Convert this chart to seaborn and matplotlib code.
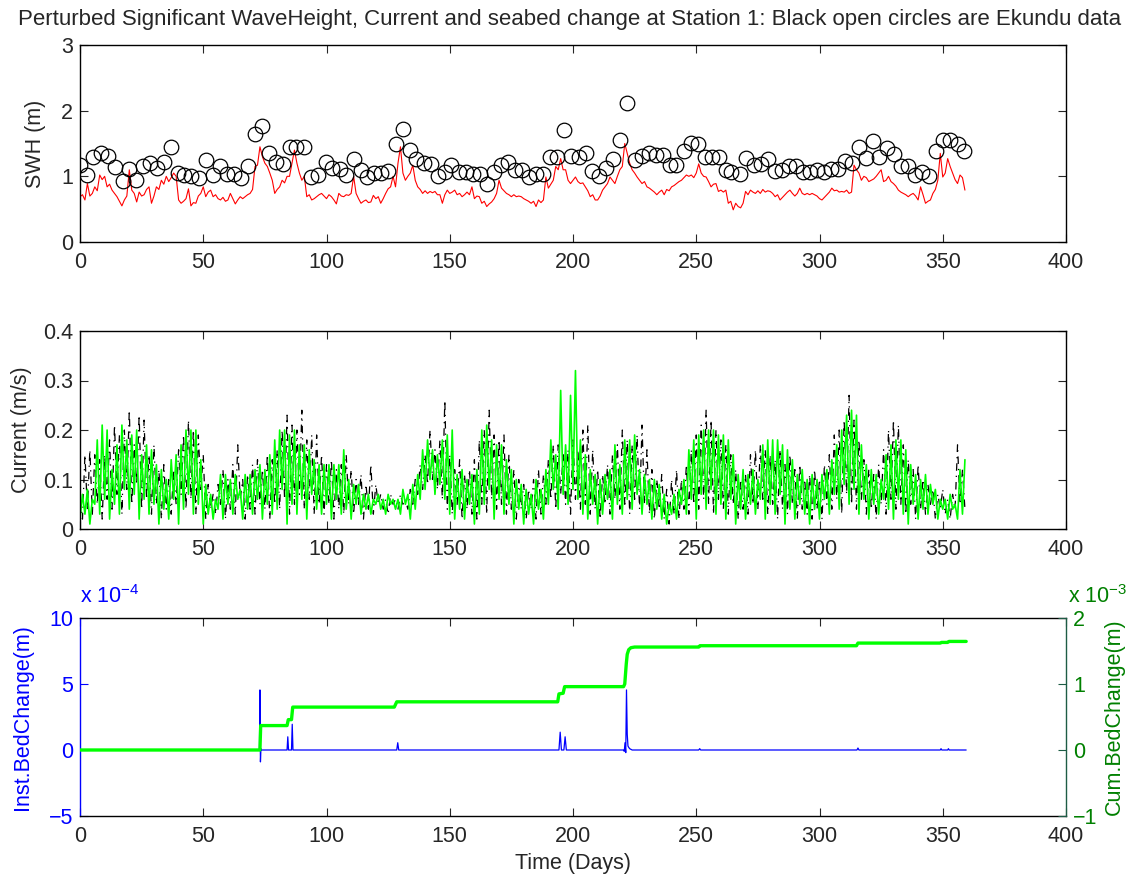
import numpy as np
import pandas as pd
import matplotlib
matplotlib.use("Agg")
import matplotlib.pyplot as plt
import seaborn as sns

# ---------------- data ----------------
title = ("Perturbed Significant WaveHeight, Current and seabed change at Station 1: "
         "Black open circles are Ekundu data")

# Ekundu observed SWH (open circles)
ek_day = [0, 2.7, 5.4, 8.5, 11.5, 14.2, 17.3, 19.9, 22.6, 25.7,
          28.4, 31.1, 34.2, 36.9, 39.6, 42.3, 45.0, 48.4, 51.1, 53.8,
          56.8, 59.5, 62.6, 65.5, 68.2, 70.9, 73.9, 76.8, 79.5, 82.4,
          85.1, 87.8, 90.9, 93.6, 96.6, 99.6, 102.3, 105.4, 108.1, 111.1,
          113.8, 116.5, 119.2, 122.2, 125.1, 128.0, 131.1,
          133.8, 136.5, 139.5, 142.3, 145.3, 148.0, 150.7, 153.6, 156.5, 159.5,
          162.2, 165.1, 168.0, 170.7, 173.6, 176.4, 179.3, 182.2, 185.1, 187.8,
          190.8, 193.5, 196.3, 199.3, 202.3, 205.1, 207.8, 210.5, 213.5, 216.2,
          218.9, 222.0, 225.0, 228.0, 230.8, 233.5, 236.5, 239.2, 241.9, 244.9,
          247.7, 250.7, 253.4, 256.3, 259.2, 261.9,
          264.2, 267.6, 270.3, 273.4, 276.1, 279.0, 281.8, 284.7, 287.6, 290.5,
          293.2, 296.2, 299.0, 301.8, 304.7, 307.4, 310.4, 313.3, 316.2, 318.9,
          321.6, 324.3, 327.3, 330.2, 333.1, 335.8, 338.8, 341.5, 344.6, 347.3,
          350.0, 353.1, 356.1, 358.8]
ek_swh = [1.17, 1.02, 1.30, 1.35, 1.31, 1.14, 0.93, 1.11, 0.94, 1.15,
          1.21, 1.13, 1.22, 1.45, 1.05, 1.02, 1.00, 0.98, 1.25, 1.02,
          1.16, 1.04, 1.04, 0.98, 1.15, 1.64, 1.76, 1.36, 1.22, 1.19,
          1.45, 1.44, 1.45, 0.99, 1.02, 1.22, 1.12, 1.11, 1.02, 1.26,
          1.09, 0.99, 1.05, 1.05, 1.08, 1.50, 1.72,
          1.40, 1.26, 1.20, 1.19, 1.00, 1.06, 1.17, 1.07, 1.06, 1.04,
          1.04, 0.88, 1.06, 1.17, 1.22, 1.09, 1.09, 0.99, 1.04, 1.04,
          1.30, 1.30, 1.71, 1.31, 1.30, 1.35, 1.08, 1.00, 1.12, 1.27,
          1.55, 2.11, 1.25, 1.31, 1.35, 1.32, 1.32, 1.18, 1.18, 1.39,
          1.51, 1.49, 1.30, 1.29, 1.29, 1.10,
          1.06, 1.04, 1.28, 1.17, 1.19, 1.26, 1.08, 1.09, 1.15, 1.16,
          1.07, 1.07, 1.10, 1.07, 1.11, 1.11, 1.24, 1.21, 1.45, 1.28,
          1.54, 1.30, 1.43, 1.34, 1.16, 1.16, 1.02, 1.07, 1.00, 1.39,
          1.55, 1.55, 1.50, 1.39]

# model time axis (days)
days = list(range(360))

# perturbed model SWH (red line)
swh_model = [
    0.69, 0.72, 0.64, 0.89, 0.70, 0.74, 0.84, 0.78, 1.02, 0.95,
    1.00, 0.84, 0.88, 0.79, 0.74, 0.69, 0.62, 0.55, 0.64, 0.70,
    1.10, 0.79, 0.74, 0.61, 0.76, 0.70, 0.72, 0.80, 0.84, 0.59,
    0.70, 0.84, 0.80, 0.94, 0.88, 1.00, 0.92, 0.98, 1.05, 1.00,
    0.64, 0.59, 0.62, 0.66, 0.81, 0.55, 0.60, 0.59, 0.70, 0.74,
    0.84, 0.69, 0.76, 0.79, 0.69, 0.72, 0.66, 0.64, 0.68, 0.62,
    0.64, 0.74, 0.66, 0.58, 0.64, 0.69, 0.66, 0.69, 0.72, 0.74,
    0.80, 1.15, 1.17, 1.45, 1.30, 1.20, 1.15, 1.05, 0.94, 0.74,
    0.80, 0.84, 0.94, 0.90, 1.00, 1.00, 1.20, 1.40, 1.20, 1.05,
    0.94, 1.00, 0.69, 0.72, 0.64, 0.66, 0.69, 0.72, 0.74, 0.70,
    0.66, 0.72, 0.69, 0.64, 0.58, 0.74, 0.70, 0.69, 0.72, 0.71,
    0.74, 1.00, 0.74, 0.66, 0.59, 0.62, 0.64, 0.60, 0.61, 0.71,
    0.66, 0.69, 0.59, 0.66, 0.74, 0.81, 0.84, 1.00, 0.84, 1.20,
    1.45, 1.05, 0.94, 1.00, 1.05, 1.17, 0.94, 0.84, 0.80, 0.74,
    0.78, 0.74, 0.77, 0.75, 0.77, 0.72, 0.72, 0.59, 0.72, 0.79,
    0.74, 0.76, 0.79, 0.72, 0.74, 0.69, 0.72, 0.76, 0.72, 0.84,
    0.66, 0.70, 0.69, 0.59, 0.62, 0.54, 0.58, 0.61, 0.66, 0.74,
    0.94, 0.82, 0.78, 0.74, 0.72, 0.69, 0.72, 0.69, 0.70, 0.69,
    0.66, 0.64, 0.62, 0.59, 0.62, 0.54, 0.64, 0.60, 0.64, 0.99,
    0.82, 0.88, 0.94, 1.15, 1.10, 1.27, 1.10, 1.10, 0.94, 0.89,
    0.94, 0.99, 0.92, 0.89, 0.90, 0.84, 0.78, 0.69, 0.72, 0.64,
    0.64, 0.70, 0.79, 0.84, 0.89, 0.99, 0.94, 0.89, 1.00, 1.10,
    1.15, 1.50, 1.35, 1.20, 1.10, 1.05, 0.99, 0.94, 0.89, 0.92,
    0.84, 0.82, 0.79, 0.76, 0.72, 0.76, 0.79, 0.72, 0.80, 0.78,
    0.84, 0.86, 0.89, 0.92, 0.94, 0.98, 1.02, 1.00, 1.02, 0.98,
    1.05, 1.19, 1.05, 1.00, 0.99, 0.92, 0.84, 0.88, 0.89, 0.77,
    0.79, 0.76, 0.79, 0.59, 0.62, 0.49, 0.59, 0.54, 0.52, 0.59,
    0.77, 0.72, 0.79, 0.76, 0.74, 0.78, 0.74, 0.80, 0.76, 0.78,
    0.77, 0.74, 0.69, 0.72, 0.64, 0.68, 0.72, 0.76, 0.79, 0.74,
    0.70, 0.74, 0.82, 0.74, 0.72, 0.74, 0.72, 0.74, 0.72, 0.70,
    0.66, 0.64, 0.68, 0.72, 0.76, 0.82, 0.78, 0.79, 0.76, 0.77,
    0.76, 0.79, 0.74, 0.76, 1.17, 1.10, 1.05, 0.94, 1.00, 0.98,
    0.92, 0.94, 0.96, 1.00, 1.05, 1.10, 0.92, 0.94, 1.00, 0.92,
    0.89, 0.85, 0.79, 0.76, 0.74, 0.72, 0.69, 0.72, 0.74, 0.70,
    0.64, 0.84, 0.72, 0.59, 0.62, 0.64, 0.74, 0.80, 0.94, 1.35,
    0.99, 1.05, 1.27, 1.15, 1.05, 0.95, 0.89, 1.02, 0.98, 0.79]

# perturbed model current (green line)
cur_model = [
    0.02, 0.07, 0.03, 0.08, 0.01, 0.06, 0.05, 0.18, 0.03, 0.21,
    0.06, 0.20, 0.02, 0.12, 0.05, 0.17, 0.03, 0.21, 0.08, 0.18,
    0.04, 0.19, 0.07, 0.20, 0.02, 0.15, 0.06, 0.17, 0.03, 0.16,
    0.05, 0.13, 0.01, 0.12, 0.04, 0.10, 0.02, 0.14, 0.06, 0.15,
    0.01, 0.17, 0.04, 0.20, 0.07, 0.20, 0.03, 0.20, 0.05, 0.14,
    0.01, 0.09, 0.03, 0.07, 0.02, 0.06, 0.04, 0.11, 0.02, 0.11,
    0.05, 0.10, 0.03, 0.11, 0.06, 0.08, 0.02, 0.11, 0.04, 0.11,
    0.03, 0.12, 0.06, 0.13, 0.02, 0.12, 0.05, 0.15, 0.03, 0.18,
    0.04, 0.20, 0.08, 0.20, 0.01, 0.19, 0.05, 0.20, 0.03, 0.17,
    0.06, 0.17, 0.02, 0.16, 0.07, 0.14, 0.04, 0.13, 0.03, 0.13,
    0.05, 0.13, 0.02, 0.13, 0.06, 0.13, 0.03, 0.16, 0.04, 0.10,
    0.02, 0.09, 0.05, 0.09, 0.03, 0.07, 0.04, 0.07, 0.03, 0.06,
    0.05, 0.07, 0.04, 0.06, 0.03, 0.07, 0.05, 0.06, 0.04, 0.06,
    0.03, 0.08, 0.05, 0.07, 0.02, 0.09, 0.04, 0.11, 0.06, 0.16,
    0.08, 0.18, 0.10, 0.16, 0.07, 0.15, 0.09, 0.18, 0.06, 0.19,
    0.03, 0.20, 0.02, 0.11, 0.04, 0.12, 0.02, 0.10, 0.05, 0.11,
    0.01, 0.12, 0.03, 0.20, 0.05, 0.21, 0.08, 0.18, 0.02, 0.17,
    0.06, 0.17, 0.03, 0.14, 0.05, 0.12, 0.01, 0.10, 0.04, 0.09,
    0.01, 0.08, 0.03, 0.07, 0.01, 0.10, 0.04, 0.08, 0.02, 0.12,
    0.05, 0.18, 0.08, 0.15, 0.04, 0.28, 0.07, 0.17, 0.05, 0.27,
    0.08, 0.32, 0.06, 0.18, 0.03, 0.15, 0.02, 0.12, 0.05, 0.11,
    0.01, 0.10, 0.03, 0.11, 0.06, 0.12, 0.02, 0.17, 0.05, 0.13,
    0.03, 0.18, 0.06, 0.18, 0.04, 0.19, 0.07, 0.12, 0.03, 0.11,
    0.05, 0.10, 0.02, 0.10, 0.04, 0.09, 0.02, 0.07, 0.01, 0.05,
    0.03, 0.07, 0.02, 0.08, 0.05, 0.10, 0.03, 0.16, 0.06, 0.18,
    0.02, 0.19, 0.07, 0.20, 0.04, 0.20, 0.08, 0.20, 0.03, 0.19,
    0.05, 0.19, 0.02, 0.18, 0.06, 0.15, 0.01, 0.11, 0.04, 0.12,
    0.02, 0.11, 0.05, 0.12, 0.03, 0.10, 0.06, 0.17, 0.02, 0.18,
    0.05, 0.18, 0.03, 0.18, 0.07, 0.17, 0.01, 0.16, 0.04, 0.14,
    0.02, 0.11, 0.05, 0.12, 0.03, 0.10, 0.01, 0.11, 0.04, 0.10,
    0.02, 0.11, 0.06, 0.12, 0.03, 0.14, 0.07, 0.17, 0.04, 0.20,
    0.09, 0.23, 0.05, 0.24, 0.08, 0.23, 0.03, 0.17, 0.06, 0.13,
    0.02, 0.12, 0.05, 0.11, 0.03, 0.10, 0.06, 0.15, 0.04, 0.17,
    0.02, 0.18, 0.06, 0.18, 0.03, 0.16, 0.01, 0.13, 0.05, 0.11,
    0.02, 0.10, 0.04, 0.11, 0.03, 0.09, 0.05, 0.08, 0.02, 0.06,
    0.04, 0.06, 0.02, 0.07, 0.04, 0.05, 0.02, 0.12, 0.03, 0.14]

# reference current (black dash-dot line)
cur_ref = [
    0.06, 0.02, 0.15, 0.04, 0.16, 0.03, 0.15, 0.05, 0.14, 0.02,
    0.15, 0.06, 0.18, 0.04, 0.21, 0.07, 0.19, 0.03, 0.20, 0.08,
    0.24, 0.05, 0.17, 0.09, 0.23, 0.04, 0.22, 0.06, 0.15, 0.03,
    0.17, 0.05, 0.12, 0.02, 0.13, 0.04, 0.10, 0.03, 0.12, 0.05,
    0.16, 0.07, 0.19, 0.04, 0.22, 0.06, 0.20, 0.03, 0.19, 0.08,
    0.15, 0.02, 0.09, 0.04, 0.07, 0.03, 0.09, 0.05, 0.12, 0.02,
    0.10, 0.04, 0.13, 0.03, 0.17, 0.06, 0.10, 0.02, 0.11, 0.04,
    0.13, 0.03, 0.14, 0.05, 0.12, 0.04, 0.15, 0.02, 0.14, 0.05,
    0.16, 0.04, 0.20, 0.06, 0.23, 0.03, 0.21, 0.05, 0.20, 0.07,
    0.24, 0.04, 0.18, 0.06, 0.19, 0.03, 0.19, 0.05, 0.15, 0.03,
    0.13, 0.05, 0.14, 0.02, 0.12, 0.04, 0.13, 0.03, 0.15, 0.05,
    0.12, 0.03, 0.10, 0.05, 0.11, 0.02, 0.09, 0.04, 0.13, 0.03,
    0.09, 0.05, 0.07, 0.04, 0.06, 0.03, 0.07, 0.05, 0.06, 0.04,
    0.07, 0.05, 0.06, 0.04, 0.08, 0.05, 0.10, 0.07, 0.13, 0.08,
    0.15, 0.09, 0.20, 0.10, 0.16, 0.08, 0.18, 0.06, 0.26, 0.04,
    0.15, 0.03, 0.12, 0.05, 0.14, 0.02, 0.11, 0.04, 0.12, 0.03,
    0.14, 0.02, 0.18, 0.05, 0.20, 0.03, 0.24, 0.06, 0.19, 0.04,
    0.18, 0.05, 0.19, 0.03, 0.15, 0.04, 0.12, 0.02, 0.10, 0.04,
    0.09, 0.02, 0.08, 0.04, 0.10, 0.02, 0.12, 0.03, 0.11, 0.05,
    0.14, 0.06, 0.17, 0.04, 0.17, 0.07, 0.15, 0.05, 0.16, 0.03,
    0.18, 0.06, 0.16, 0.04, 0.20, 0.05, 0.21, 0.03, 0.16, 0.04,
    0.12, 0.02, 0.11, 0.05, 0.13, 0.03, 0.15, 0.06, 0.17, 0.04,
    0.20, 0.05, 0.18, 0.03, 0.17, 0.06, 0.19, 0.04, 0.21, 0.05,
    0.16, 0.03, 0.12, 0.02, 0.10, 0.04, 0.11, 0.02, 0.08, 0.01,
    0.10, 0.03, 0.12, 0.02, 0.10, 0.04, 0.13, 0.03, 0.16, 0.05,
    0.19, 0.04, 0.21, 0.06, 0.24, 0.05, 0.22, 0.03, 0.20, 0.06,
    0.18, 0.04, 0.17, 0.03, 0.15, 0.05, 0.12, 0.02, 0.10, 0.04,
    0.11, 0.03, 0.15, 0.05, 0.16, 0.04, 0.17, 0.06, 0.16, 0.03,
    0.15, 0.05, 0.14, 0.02, 0.16, 0.04, 0.13, 0.03, 0.15, 0.05,
    0.12, 0.02, 0.13, 0.04, 0.10, 0.03, 0.11, 0.02, 0.12, 0.04,
    0.10, 0.02, 0.13, 0.05, 0.15, 0.04, 0.19, 0.06, 0.20, 0.03,
    0.22, 0.07, 0.27, 0.05, 0.22, 0.04, 0.18, 0.06, 0.14, 0.03,
    0.12, 0.04, 0.11, 0.02, 0.13, 0.05, 0.16, 0.03, 0.20, 0.06,
    0.22, 0.04, 0.21, 0.05, 0.17, 0.03, 0.14, 0.05, 0.12, 0.02,
    0.13, 0.04, 0.10, 0.03, 0.09, 0.05, 0.08, 0.02, 0.07, 0.04,
    0.08, 0.03, 0.06, 0.02, 0.07, 0.04, 0.17, 0.05, 0.12, 0.04]

# instantaneous bed change (units of 1e-4 m, blue)
inst_day = [0, 72.8, 73.0, 73.2, 73.4, 73.6, 84.0, 84.3, 84.6, 85.8, 86.1, 86.4,
            128.5, 128.9, 129.3, 194.3, 194.8, 195.3, 196.3, 196.8, 197.3,
            220.5, 220.8, 221.1, 221.4, 221.7, 222.0, 222.3, 222.6, 223.0, 223.5,
            224.0, 251.0, 251.4, 251.8, 315.2, 315.6, 316.0, 349.0, 349.3, 349.6,
            352.0, 352.3, 352.6, 359.5]
inst_bed = [0, 0, 4.55, -0.9, 0.1, 0, 0, 1.0, 0, 0, 1.95, 0,
            0, 0.55, 0, 0, 1.35, 0, 0, 1.0, 0,
            0, -0.1, 0.55, -0.2, 4.55, 1.2, 0.3, 0.2, 0.1, 0.05,
            0, 0, 0.1, 0, 0, 0.15, 0, 0, 0.1, 0,
            0, 0.1, 0, 0]

# cumulative bed change (units of 1e-3 m, green)
cum_day = [0, 73.0, 73.3, 84.0, 84.5, 85.8, 86.3, 127.5, 128.5, 193.8, 194.3,
           196.0, 196.6, 220.5, 221.0, 221.6, 222.0, 222.6, 223.5, 225.0,
           251.0, 251.5, 315.0, 315.6, 349.0, 349.5, 352.0, 352.5, 359.5]
cum_bed = [0, 0, 0.37, 0.37, 0.46, 0.46, 0.65, 0.65, 0.73, 0.73, 0.85,
           0.86, 0.96, 0.96, 1.00, 1.30, 1.45, 1.52, 1.55, 1.56,
           1.56, 1.58, 1.58, 1.62, 1.62, 1.63, 1.63, 1.645, 1.645]

x_ticks = [0, 50, 100, 150, 200, 250, 300, 350, 400]

# ---------------- style ----------------
sns.set_style("ticks")
plt.rcParams['font.family'] = ['Liberation Sans', 'DejaVu Sans']
plt.rcParams['mathtext.fontset'] = 'custom'
plt.rcParams['mathtext.rm'] = 'Liberation Sans'
FS = 15.5

W, H = 1133, 876
fig = plt.figure(figsize=(W / 100, H / 100), dpi=100)
fig.patch.set_facecolor('white')

def box(l, t, r, b):
    return [l / W, 1 - b / H, (r - l) / W, (b - t) / H]

ax1 = fig.add_axes(box(80, 45, 1066, 242))
ax2 = fig.add_axes(box(80, 331, 1066, 529))
ax3 = fig.add_axes(box(80, 618, 1066, 816))

def style(ax, right=True):
    for s in ax.spines.values():
        s.set_linewidth(1.0)
        s.set_color('black')
    ax.tick_params(direction='in', top=True, right=right, length=6, width=0.8,
                   labelsize=FS)
    ax.tick_params(axis='x', pad=7.5)
    ax.tick_params(axis='y', pad=5)
    ax.set_xlim(0, 400)
    ax.set_xticks(x_ticks)
    ax.set_xlabel('')
    ax.set_ylabel('')

df_top = pd.DataFrame({'day': days, 'swh': swh_model})
df_ek = pd.DataFrame({'day': ek_day, 'swh': ek_swh})
df_cur = pd.DataFrame({'day': days, 'model': cur_model, 'ref': cur_ref})
df_inst = pd.DataFrame({'day': inst_day, 'v': inst_bed})
df_cum = pd.DataFrame({'day': cum_day, 'v': cum_bed})

# ---- top panel ----
sns.lineplot(data=df_top, x='day', y='swh', ax=ax1, color='#ff0000',
             linewidth=0.8, estimator=None, sort=False)
ax1.plot(df_ek['day'], df_ek['swh'], linestyle='none', marker='o',
         markersize=10.5, markerfacecolor='none', markeredgecolor='black',
         markeredgewidth=0.9)
style(ax1)
ax1.set_ylim(0, 3)
ax1.set_yticks([0, 1, 2, 3])
ax1.set_ylabel('SWH (m)', fontsize=FS)
ax1.yaxis.set_label_coords(-0.034, 0.5)

# ---- middle panel ----
sns.lineplot(data=df_cur, x='day', y='ref', ax=ax2, color='black',
             linewidth=0.9, dashes=False, estimator=None, sort=False)
ax2.lines[-1].set_dashes([6, 4, 1, 4])
sns.lineplot(data=df_cur, x='day', y='model', ax=ax2, color='#00ff00',
             linewidth=1.2, estimator=None, sort=False)
style(ax2)
ax2.set_ylim(0, 0.4)
ax2.set_yticks([0, 0.1, 0.2, 0.3, 0.4])
ax2.set_yticklabels(['0', '0.1', '0.2', '0.3', '0.4'])
ax2.set_ylabel('Current (m/s)', fontsize=FS)
ax2.yaxis.set_label_coords(-0.049, 0.5)

# ---- bottom panel ----
blue = '#0000ff'
dgreen = '#008000'
sns.lineplot(data=df_inst, x='day', y='v', ax=ax3, color=blue,
             linewidth=0.9, estimator=None, sort=False)
style(ax3, right=False)
ax3.set_ylim(-5, 10)
ax3.set_yticks([-5, 0, 5, 10])
ax3.spines['left'].set_color(blue)
ax3.spines['right'].set_visible(False)
ax3.tick_params(axis='y', colors=blue, labelcolor=blue)
ax3.set_ylabel('Inst.BedChange(m)', fontsize=FS, color=blue)
ax3.yaxis.set_label_coords(-0.048, 0.5)
ax3.set_xlabel('Time (Days)', fontsize=FS)
ax3.text(0.0, 1.05, r'x 10$^{-4}$', transform=ax3.transAxes, color=blue,
         fontsize=FS, ha='left', va='bottom')

ax4 = ax3.twinx()
sns.lineplot(data=df_cum, x='day', y='v', ax=ax4, color='#00ff00',
             linewidth=2.4, estimator=None, sort=False)
ax4.set_xlim(0, 400)
ax4.set_ylim(-1, 2)
ax4.set_yticks([-1, 0, 1, 2])
ax4.set_xlabel('')
for k in ['left', 'top', 'bottom']:
    ax4.spines[k].set_visible(False)
ax4.spines['right'].set_color('#1d5c45')
ax4.spines['right'].set_linewidth(1.0)
ax4.tick_params(axis='y', direction='in', length=6, width=0.8, colors='#1d5c45',
                labelcolor=dgreen, labelsize=FS, pad=5)
ax4.set_ylabel('Cum.BedChange(m)', fontsize=FS, color=dgreen)
ax4.yaxis.set_label_coords(1.038, 0.5)
ax4.text(1.002, 1.05, r'x 10$^{-3}$', transform=ax4.transAxes, color=dgreen,
         fontsize=FS, ha='left', va='bottom')

fig.text(570 / W, 1 - 19 / H, title, ha='center', va='center', fontsize=16)

fig.savefig('out.png', dpi=100, facecolor='white')
